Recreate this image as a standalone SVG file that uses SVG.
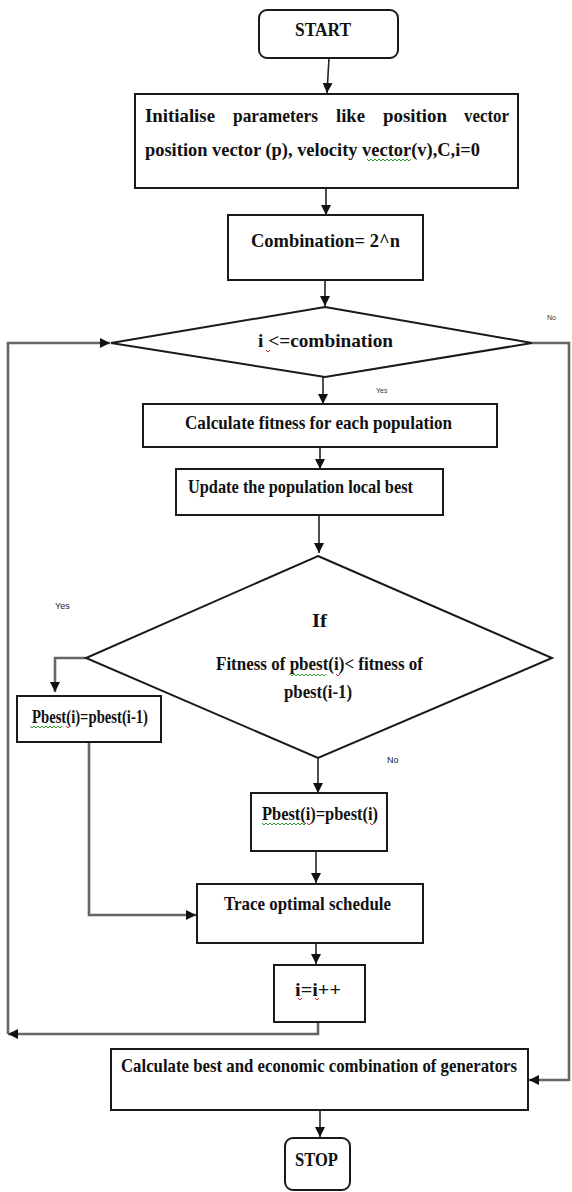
<svg xmlns="http://www.w3.org/2000/svg" width="572" height="1192" viewBox="0 0 572 1192">
<style>
.box{fill:#fff;stroke:#1a1a1a;stroke-width:2}
.t{font-family:"Liberation Serif","Times New Roman",serif;font-weight:bold;fill:#111;font-size:19px}
.lbl{font-family:"Liberation Sans",Arial,sans-serif;fill:#223;font-size:9px}
.tiny{font-family:"Liberation Sans",Arial,sans-serif;fill:#334;font-size:7px}
.c{fill:none;stroke:#222;stroke-width:1.6}
.loop{fill:none;stroke:#666;stroke-width:2.6}
.sqg{fill:none;stroke:#2a9a2a;stroke-width:1}
.sqr{fill:none;stroke:#d22;stroke-width:1}
</style>
<defs>
<marker id="ah" viewBox="0 0 10 10" refX="10" refY="5" markerWidth="10" markerHeight="10" markerUnits="userSpaceOnUse" orient="auto">
<path d="M0,0 L10,5 L0,10 z" fill="#111"/>
</marker>
</defs>
<rect width="572" height="1192" fill="#fff"/>

<g id="connectors">
<path class="c" d="M329,58 L327,93" marker-end="url(#ah)"/>
<path class="c" d="M326,188 V215" marker-end="url(#ah)"/>
<path class="c" d="M325,280 V306" marker-end="url(#ah)"/>
<path class="c" d="M323,377 V404" marker-end="url(#ah)"/>
<path class="c" d="M320,447 V469" marker-end="url(#ah)"/>
<path class="c" d="M319,515 V553" marker-end="url(#ah)"/>
<path class="loop" d="M86,658 H55 V692" marker-end="url(#ah)"/>
<path class="c" d="M318,758 V793" marker-end="url(#ah)"/>
<path class="loop" d="M89,742 V915 H196" marker-end="url(#ah)"/>
<path class="c" d="M316,851 V883" marker-end="url(#ah)"/>
<path class="c" d="M316,943 V964" marker-end="url(#ah)"/>
<path class="loop" d="M318,1022 V1034 H8" marker-end="url(#ah)"/>
<path class="loop" d="M8,1034 V343 H110" marker-end="url(#ah)"/>
<path class="loop" d="M532,343 H569 V1080 H529" marker-end="url(#ah)"/>
<path class="c" d="M320,1110 V1137" marker-end="url(#ah)"/>
</g>

<g id="start">
<rect class="box" x="259" y="10" width="139" height="48" rx="8"/>
<text class="t" x="295" y="36" font-size="20" textLength="56" lengthAdjust="spacingAndGlyphs">START</text>
</g>

<g id="init">
<rect class="box" x="135" y="94" width="383" height="94"/>
<text class="t" x="145" y="122" textLength="70" lengthAdjust="spacingAndGlyphs">Initialise</text>
<text class="t" x="233" y="122" textLength="85" lengthAdjust="spacingAndGlyphs">parameters</text>
<text class="t" x="336" y="122" textLength="29" lengthAdjust="spacingAndGlyphs">like</text>
<text class="t" x="383" y="122" textLength="64" lengthAdjust="spacingAndGlyphs">position</text>
<text class="t" x="464" y="122" textLength="45" lengthAdjust="spacingAndGlyphs">vector</text>
<text class="t" x="145" y="156" textLength="335" lengthAdjust="spacingAndGlyphs">position vector (p), velocity vector(v),C,i=0</text>
</g>

<g id="combination">
<rect class="box" x="228" y="215" width="195" height="65"/>
<text class="t" x="251" y="247" textLength="149" lengthAdjust="spacingAndGlyphs">Combination= 2^n</text>
</g>

<g id="decision1">
<polygon class="box" points="325,307 532,343 325,377 111,343"/>
<text class="t" x="258" y="347" textLength="135" lengthAdjust="spacingAndGlyphs">i &lt;=combination</text>
<text class="tiny" x="547" y="320">No</text>
<text class="tiny" x="376" y="393">Yes</text>
</g>

<g id="fitness">
<rect class="box" x="143" y="404" width="354" height="43"/>
<text class="t" x="185" y="429" textLength="267" lengthAdjust="spacingAndGlyphs">Calculate fitness for each population</text>
</g>

<g id="update">
<rect class="box" x="176" y="469" width="267" height="46"/>
<text class="t" x="188" y="493" textLength="225" lengthAdjust="spacingAndGlyphs">Update the population local best</text>
</g>

<g id="decision2">
<polygon class="box" points="318,556 552,658 318,758 86,658"/>
<text class="t" x="312" y="627" textLength="15" lengthAdjust="spacingAndGlyphs">If</text>
<text class="t" x="216" y="670" textLength="207" lengthAdjust="spacingAndGlyphs">Fitness of pbest(i)&lt; fitness of</text>
<text class="t" x="284" y="698" textLength="68" lengthAdjust="spacingAndGlyphs">pbest(i-1)</text>
<text class="lbl" x="55" y="609">Yes</text>
<text class="lbl" x="387" y="763">No</text>
</g>

<g id="pbest-prev">
<rect class="box" x="17" y="696" width="144" height="46"/>
<text class="t" x="32" y="723" font-size="17" textLength="116" lengthAdjust="spacingAndGlyphs">Pbest(i)=pbest(i-1)</text>
</g>

<g id="pbest-cur">
<rect class="box" x="251" y="793" width="136" height="58"/>
<text class="t" x="262" y="820" font-size="17" textLength="116" lengthAdjust="spacingAndGlyphs">Pbest(i)=pbest(i)</text>
</g>

<g id="trace">
<rect class="box" x="197" y="884" width="226" height="59"/>
<text class="t" x="224" y="910" textLength="167" lengthAdjust="spacingAndGlyphs">Trace optimal schedule</text>
</g>

<g id="increment">
<rect class="box" x="274" y="965" width="91" height="57"/>
<text class="t" x="295" y="996" textLength="46" lengthAdjust="spacingAndGlyphs">i=i++</text>
</g>

<g id="best">
<rect class="box" x="111" y="1049" width="417" height="61"/>
<text class="t" x="121" y="1072" textLength="396" lengthAdjust="spacingAndGlyphs">Calculate best and economic combination of generators</text>
</g>

<g id="stop">
<rect class="box" x="285" y="1138" width="65" height="52" rx="8"/>
<text class="t" x="295" y="1166" textLength="43" lengthAdjust="spacingAndGlyphs">STOP</text>
</g>

<g id="spellcheck">
<path class="sqg" d="M367,159 l2,2 l2,-2 l2,2 l2,-2 l2,2 l2,-2 l2,2 l2,-2 l2,2 l2,-2 l2,2 l2,-2 l2,2 l2,-2 l2,2 l2,-2 l2,2 l2,-2 l2,2 l2,-2 l2,2 l2,-2"/>
<path class="sqr" d="M266,350 l2,2 l2,-2"/>
<path class="sqg" d="M290,674 l2,2 l2,-2 l2,2 l2,-2 l2,2 l2,-2 l2,2 l2,-2 l2,2 l2,-2 l2,2 l2,-2 l2,2 l2,-2 l2,2 l2,-2 l2,2 l2,-2"/>
<path class="sqr" d="M336,674 l2,2 l2,-2"/>
<path class="sqg" d="M30,726 l2,2 l2,-2 l2,2 l2,-2 l2,2 l2,-2 l2,2 l2,-2 l2,2 l2,-2 l2,2 l2,-2 l2,2 l2,-2 l2,2 l2,-2"/>
<path class="sqr" d="M66,726 l2,2 l2,-2"/>
<path class="sqg" d="M262,823 l2,2 l2,-2 l2,2 l2,-2 l2,2 l2,-2 l2,2 l2,-2 l2,2 l2,-2 l2,2 l2,-2 l2,2 l2,-2 l2,2 l2,-2 l2,2 l2,-2 l2,2 l2,-2 l2,2 l2,-2"/>
<path class="sqr" d="M307,823 l2,2 l2,-2"/>
<path class="sqr" d="M370,823 l2,2 l2,-2"/>
<path class="sqr" d="M298,998 l2,2 l2,-2"/>
<path class="sqr" d="M315,998 l2,2 l2,-2"/>
</g>
</svg>
